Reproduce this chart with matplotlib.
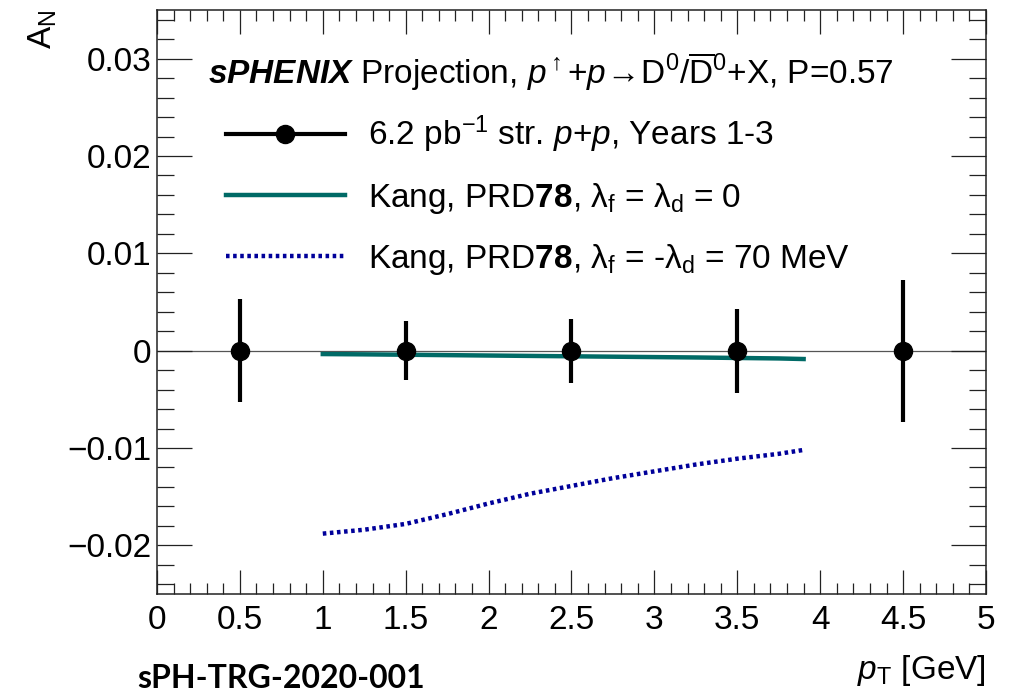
import numpy as np
import matplotlib
matplotlib.use('Agg')
import matplotlib.pyplot as plt
from matplotlib.lines import Line2D
from matplotlib.ticker import MultipleLocator

plt.rcParams['font.family'] = ['Liberation Sans', 'DejaVu Sans']
plt.rcParams['mathtext.fontset'] = 'custom'
plt.rcParams['mathtext.rm'] = 'Liberation Sans'
plt.rcParams['mathtext.it'] = 'Liberation Sans:italic'
plt.rcParams['mathtext.bf'] = 'Liberation Sans:bold'
plt.rcParams['mathtext.bfit'] = 'Liberation Sans:italic:bold'

# projected points (pT bin centres, A_N, stat. error)
pt_bins = [0.5, 1.5, 2.5, 3.5, 4.5]
an_proj = [0.0, 0.0, 0.0, 0.0, 0.0]
an_err = [0.0053, 0.0030, 0.0033, 0.0043, 0.0073]

# Kang, PRD 78 curves
kang_pt = [1.0, 1.25, 1.5, 1.75, 2.0, 2.25, 2.5, 2.75, 3.0, 3.25, 3.5, 3.75, 3.9]
kang_zero = [-0.00035, -0.00038, -0.00042, -0.00046, -0.0005, -0.00054, -0.00058,
             -0.00062, -0.00066, -0.0007, -0.00075, -0.0008, -0.00086]
kang_70 = [-0.0188, -0.0184, -0.0178, -0.0168, -0.0157, -0.0147, -0.0139,
           -0.0131, -0.0124, -0.0117, -0.0111, -0.0106, -0.0102]

teal = '#006a66'
navy = '#00009a'
fs = 24

fig = plt.figure(figsize=(10.09, 6.96), dpi=100)
ax = fig.add_axes([0.1556, 0.1466, 0.8216, 0.839])

ax.axhline(0, color='#555555', lw=0.9, zorder=1)
ax.plot(kang_pt, kang_zero, color=teal, lw=3.2, zorder=2)
ax.plot(kang_pt, kang_70, color=navy, lw=3.2, ls=(0, (0.8, 0.8)), zorder=2)
ax.errorbar(pt_bins, an_proj, yerr=an_err, fmt='o', color='black', ms=13,
            elinewidth=3, capsize=0, zorder=3)

ax.set_xlim(0, 5)
ax.set_ylim(-0.025, 0.035)
ax.xaxis.set_minor_locator(MultipleLocator(0.1))
ax.yaxis.set_minor_locator(MultipleLocator(0.002))
ax.set_xticks([0, 0.5, 1, 1.5, 2, 2.5, 3, 3.5, 4, 4.5, 5])
ax.set_xticklabels(['0', '0.5', '1', '1.5', '2', '2.5', '3', '3.5', '4', '4.5', '5'])
ax.set_yticks([-0.02, -0.01, 0, 0.01, 0.02, 0.03])
ax.set_yticklabels(['\u22120.02', '\u22120.01', '0', '0.01', '0.02', '0.03'])

ax.tick_params(which='both', direction='in', top=True, right=True, width=0.9,
               labelsize=fs, color='#222222')
ax.tick_params(axis='x', which='major', length=17, pad=8)
ax.tick_params(axis='x', which='minor', length=8)
ax.tick_params(axis='y', which='major', length=25, pad=4)
ax.tick_params(axis='y', which='minor', length=12)
for s in ax.spines.values():
    s.set_linewidth(1.1)
    s.set_color('#222222')

ax.set_ylabel(r'A$_\mathregular{N}$', loc='top', fontsize=fs, labelpad=6)
ax.set_xlabel(r'$p_\mathregular{T}$ [GeV]', loc='right', fontsize=fs, labelpad=12)

ax.text(0.062, 0.894,
        r'$\mathbfit{sPHENIX}$ Projection, $p^{\uparrow}$+$p\!\rightarrow\!$' +
        r'D$^0$/$\overline{\mathrm{D}}^0$+X, P=0.57',
        transform=ax.transAxes, fontsize=fs, va='center', ha='left')

handles = [
    Line2D([], [], color='black', lw=3, marker='o', ms=13),
    Line2D([], [], color=teal, lw=3.2),
    Line2D([], [], color=navy, lw=3.2, ls=(0, (0.8, 0.8))),
]
labels = [
    r'6.2 pb$^\mathregular{-1}$ str. $p$+$p$, Years 1-3',
    r'Kang, PRD$\mathbf{78}$, $\mathrm{\lambda}_\mathregular{f}$ = $\mathrm{\lambda}_\mathregular{d}$ = 0',
    r'Kang, PRD$\mathbf{78}$, $\mathrm{\lambda}_\mathregular{f}$ = -$\mathrm{\lambda}_\mathregular{d}$ = 70 MeV',
]
ax.legend(handles, labels, loc='upper left', bbox_to_anchor=(0.0675, 0.845),
          frameon=False, fontsize=fs, numpoints=1, handlelength=3.55,
          handletextpad=0.7, labelspacing=0.77, borderaxespad=0)

fig.text(137 / 1009, 0.005, 'sPH-TRG-2020-001', fontsize=23, fontweight='bold',
         family=['Lato', 'DejaVu Sans'], ha='left', va='bottom')

fig.savefig('out.png', dpi=100)
